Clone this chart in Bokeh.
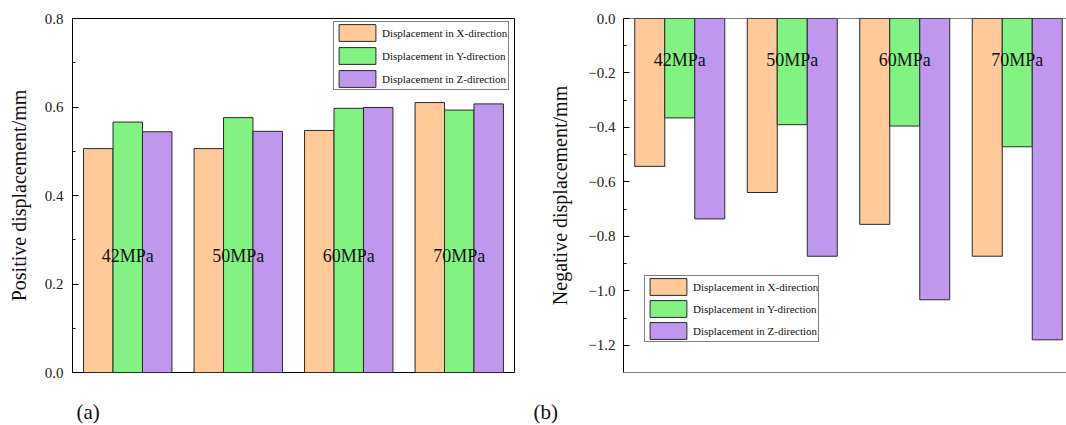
import numpy as np
from bokeh.plotting import figure
from bokeh.models import (ColumnDataSource, Range1d, FixedTicker, Legend,
                          LegendItem, Span, Title)
from bokeh.layouts import row
from bokeh.core.properties import value
from bokeh.embed import file_html
from bokeh.resources import INLINE

# ---------------- data ----------------
categories = ["42MPa", "50MPa", "60MPa", "70MPa"]
series_labels = ["Displacement in X-direction",
                 "Displacement in Y-direction",
                 "Displacement in Z-direction"]
series_colors = ["#FFC999", "#82F282", "#BF98EE"]

pos_x = [0.506, 0.506, 0.547, 0.610]
pos_y = [0.566, 0.576, 0.597, 0.593]
pos_z = [0.544, 0.545, 0.599, 0.607]

neg_x = [-0.543, -0.639, -0.756, -0.873]
neg_y = [-0.365, -0.390, -0.395, -0.471]
neg_z = [-0.736, -0.873, -1.033, -1.180]

pos_ticks = [0.0, 0.2, 0.4, 0.6, 0.8]
pos_tick_labels = ["0.0", "0.2", "0.4", "0.6", "0.8"]
pos_minor = [0.1, 0.3, 0.5, 0.7]
neg_ticks = [0.0, -0.2, -0.4, -0.6, -0.8, -1.0, -1.2]
neg_tick_labels = ["0.0", "\u22120.2", "\u22120.4", "\u22120.6", "\u22120.8",
                   "\u22121.0", "\u22121.2"]
neg_minor = [-0.1, -0.3, -0.5, -0.7, -0.9, -1.1]

SERIF = "Liberation Serif"

idx = np.arange(1, len(categories) + 1)
BW = 0.8 / 3


def style_axes(p, ticks, labels, minor, ylabel, standoff, label_standoff):
    p.xgrid.visible = False
    p.ygrid.visible = False
    p.background_fill_color = "white"
    p.border_fill_color = "white"
    p.xaxis.visible = False
    ya = p.yaxis[0]
    ya.ticker = FixedTicker(ticks=ticks, minor_ticks=minor)
    ya.major_label_overrides = {t: l for t, l in zip(ticks, labels)}
    ya.axis_line_color = "black"
    ya.major_tick_line_color = "black"
    ya.minor_tick_line_color = "black"
    ya.major_tick_in = 6
    ya.major_tick_out = 0
    ya.minor_tick_in = 3
    ya.minor_tick_out = 0
    ya.major_label_standoff = standoff
    ya.major_label_text_font = SERIF
    ya.major_label_text_font_size = "15px"
    ya.major_label_text_color = "#222222"
    ya.axis_label = ylabel
    ya.axis_label_standoff = label_standoff
    ya.axis_label_text_font = SERIF
    ya.axis_label_text_font_size = "20px"
    ya.axis_label_text_font_style = "normal"
    ya.axis_label_text_color = "#111111"


def add_bars(p, series):
    rends = []
    for k, (vals, col) in enumerate(zip(series, series_colors)):
        src = ColumnDataSource(dict(x=idx + (k - 1) * BW, top=vals))
        r = p.vbar(x="x", top="top", bottom=0, width=BW, source=src,
                   fill_color=col, line_color="#2a2a2a", line_width=1)
        rends.append(r)
    return rends


def add_legend(p, rends, loc, label_width, spacing):
    leg = Legend(items=[LegendItem(label=l, renderers=[r])
                        for l, r in zip(series_labels, rends)],
                 location=loc, padding=0, spacing=spacing, margin=0,
                 glyph_width=46, glyph_height=21, label_height=21,
                 label_standoff=2, label_width=label_width,
                 label_text_font=SERIF, label_text_font_size="11px",
                 label_text_color="#111111",
                 border_line_color="black", border_line_width=1,
                 background_fill_color="white", background_fill_alpha=1)
    p.add_layout(leg)


def add_panel_tag(p, text, offset):
    # blank (white) spacer between the frame and the panel tag
    p.add_layout(Title(text=" ", standoff=22, text_font_size="1px",
                       text_color="white"), "below")
    p.add_layout(Title(text=text, align="left", offset=offset, standoff=0,
                       text_font=SERIF, text_font_size="21px",
                       text_font_style="normal", text_color="#111111"),
                 "below")


# ---------------- panel (a) ----------------
p1 = figure(width=530, height=425, x_range=Range1d(0.5, 4.5),
            y_range=Range1d(0, 0.8), output_backend="svg",
            toolbar_location=None, min_border_left=72, min_border_right=16,
            min_border_top=18, min_border_bottom=52)
p1.outline_line_color = "black"
p1.outline_line_width = 1
p1.outline_line_alpha = 1
style_axes(p1, pos_ticks, pos_tick_labels, pos_minor,
           "Positive displacement/mm", 9, 12)
r1 = add_bars(p1, [pos_x, pos_y, pos_z])
p1.text(x=idx, y=np.full(len(categories), 0.263), text=categories,
        text_font=value(SERIF), text_font_size="18px",
        text_align="center", text_baseline="middle", text_color="#111111")
add_legend(p1, r1, (261, 282), 126, 2)
add_panel_tag(p1, "(a)", 4)

# ---------------- panel (b) ----------------
p2 = figure(width=536, height=425, x_range=Range1d(0.5, 0.5 + 443 / 112.5),
            y_range=Range1d(-1.3, 0), output_backend="svg",
            toolbar_location=None, min_border_left=93, min_border_right=0,
            min_border_top=11, min_border_bottom=53)
p2.outline_line_color = None
style_axes(p2, neg_ticks, neg_tick_labels, neg_minor,
           "Negative displacement/mm", 8, 14)
r2 = add_bars(p2, [neg_x, neg_y, neg_z])
p2.add_layout(Span(location=0, dimension="width", line_color="black",
                   line_width=1))
p2.add_layout(Span(location=-1.3, dimension="width", line_color="black",
                   line_width=1))
p2.text(x=idx, y=np.full(len(categories), -0.152), text=categories,
        text_font=value(SERIF), text_font_size="18px",
        text_align="center", text_baseline="middle", text_color="#111111")
add_legend(p2, r2, (21, 30), 125, 1)
add_panel_tag(p2, "(b)", -90)

layout = row(p1, p2)
open("out.html", "w").write(file_html(layout, INLINE))
